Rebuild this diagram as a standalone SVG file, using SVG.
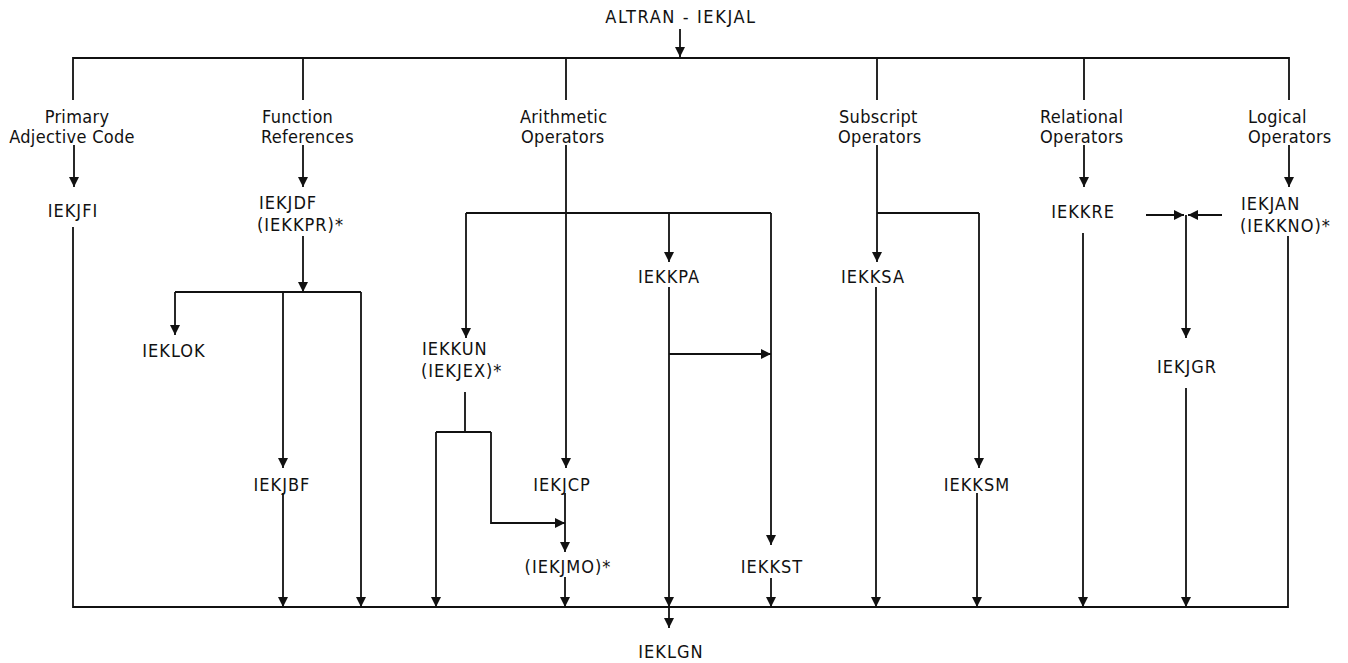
<svg xmlns="http://www.w3.org/2000/svg" width="1348" height="663" viewBox="0 0 1348 663">
<style>
text{font-family:"DejaVu Sans Condensed","DejaVu Sans","Liberation Sans",sans-serif;font-size:18px;fill:#111;letter-spacing:0.3px}
.n{letter-spacing:1px}
.c{text-anchor:middle}
.w{stroke:#111;stroke-width:1.8;fill:none}
.a{marker-end:url(#ah)}
</style>
<defs>
<marker id="ah" markerUnits="userSpaceOnUse" markerWidth="10" markerHeight="12" viewBox="0 0 10 12" refX="10" refY="5" orient="auto">
<path d="M0,0 L10,5 L0,10 Z" fill="#111"/>
</marker>
</defs>
<rect width="1348" height="663" fill="#fff"/>
<g id="connectors">
<path class="w a" d="M680,29 V57"/>
<path class="w" d="M73,100 V58 H1289 V100"/>
<path class="w" d="M303,58 V100 M566,58 V100 M877,58 V100 M1084,58 V100"/>
<path class="w a" d="M74,145 V187"/>
<path class="w a" d="M303,145 V187"/>
<path class="w a" d="M1084,145 V187"/>
<path class="w a" d="M1289,145 V187"/>
<path class="w" d="M73,227 V607 H1288 V236"/>
<path class="w a" d="M303,236 V292"/>
<path class="w" d="M175,292 H361"/>
<path class="w a" d="M175,292 V335"/>
<path class="w a" d="M283,292 V468"/>
<path class="w a" d="M283,493 V607"/>
<path class="w a" d="M361,292 V607"/>
<path class="w a" d="M566,145 V468"/>
<path class="w" d="M466,213 H771"/>
<path class="w a" d="M466,213 V338"/>
<path class="w a" d="M669,213 V262"/>
<path class="w a" d="M771,213 V545"/>
<path class="w" d="M465,392 V432 M436,432 H491"/>
<path class="w a" d="M436,432 V607"/>
<path class="w a" d="M491,432 V523 H565"/>
<path class="w a" d="M565,493 V552"/>
<path class="w a" d="M565,577 V607"/>
<path class="w a" d="M669,287 V607"/>
<path class="w a" d="M669,607 V628"/>
<path class="w a" d="M669,354 H771"/>
<path class="w a" d="M771,578 V607"/>
<path class="w a" d="M877,145 V262"/>
<path class="w" d="M877,213 H979"/>
<path class="w a" d="M979,213 V468"/>
<path class="w a" d="M876,287 V607"/>
<path class="w a" d="M977,493 V607"/>
<path class="w a" d="M1083,233 V607"/>
<path class="w a" d="M1146,215 H1184"/>
<path class="w a" d="M1222,215 H1188"/>
<path class="w a" d="M1186,215 V338"/>
<path class="w a" d="M1186,388 V607"/>
</g>
<g id="altran"><text class="c" x="681" y="23" style="letter-spacing:1.6px">ALTRAN - IEKJAL</text></g>
<g id="lbl-primary"><text class="c" x="77" y="123">Primary</text><text class="c" x="72" y="143">Adjective Code</text></g>
<g id="lbl-function"><text x="262" y="123">Function</text><text x="261" y="143">References</text></g>
<g id="lbl-arith"><text x="520" y="123">Arithmetic</text><text x="521" y="143">Operators</text></g>
<g id="lbl-subscript"><text x="839" y="123">Subscript</text><text x="838" y="143">Operators</text></g>
<g id="lbl-relational"><text x="1040" y="123">Relational</text><text x="1040" y="143">Operators</text></g>
<g id="lbl-logical"><text x="1248" y="123">Logical</text><text x="1248" y="143">Operators</text></g>
<g id="IEKJFI"><text class="c n" x="73" y="217">IEKJFI</text></g>
<g id="IEKJDF"><text class="n" x="259" y="209">IEKJDF</text><text class="n" x="257" y="231">(IEKKPR)*</text></g>
<g id="IEKLOK"><text class="c n" x="174" y="357">IEKLOK</text></g>
<g id="IEKJBF"><text class="c n" x="282" y="491">IEKJBF</text></g>
<g id="IEKKUN"><text class="n" x="422" y="355">IEKKUN</text><text class="n" x="421" y="377">(IEKJEX)*</text></g>
<g id="IEKJCP"><text class="c n" x="562" y="491">IEKJCP</text></g>
<g id="IEKJMO"><text class="c n" x="568" y="573">(IEKJMO)*</text></g>
<g id="IEKKPA"><text class="c n" x="669" y="283">IEKKPA</text></g>
<g id="IEKKST"><text class="c n" x="772" y="573">IEKKST</text></g>
<g id="IEKLGN"><text class="c n" x="671" y="658">IEKLGN</text></g>
<g id="IEKKSA"><text class="c n" x="873" y="283">IEKKSA</text></g>
<g id="IEKKSM"><text class="c n" x="977" y="491">IEKKSM</text></g>
<g id="IEKKRE"><text class="c n" x="1083" y="218">IEKKRE</text></g>
<g id="IEKJAN"><text class="n" x="1241" y="210">IEKJAN</text><text class="n" x="1240" y="232">(IEKKNO)*</text></g>
<g id="IEKJGR"><text class="c n" x="1187" y="373">IEKJGR</text></g>
</svg>
